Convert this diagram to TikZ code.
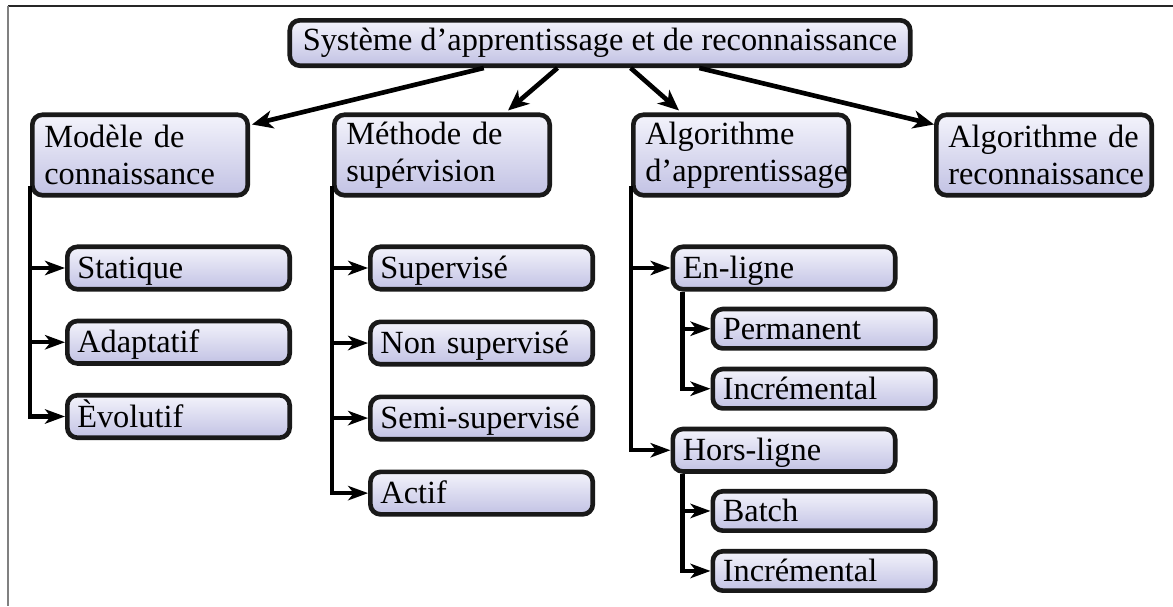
\documentclass[tikz,border=0pt]{standalone}
\usepackage{fontspec}
\setmainfont{Liberation Serif}
\usetikzlibrary{arrows.meta, calc, positioning}
\definecolor{boxtop}{RGB}{243,243,251}
\definecolor{boxbottom}{RGB}{194,194,228}

\begin{document}
\begin{tikzpicture}
% Styles
\tikzset{
  base/.style={rectangle, rounded corners=0.25cm, draw=black!90, line width=3.3pt, top color=boxtop, bottom color=boxbottom, align=left, inner xsep=0.25cm, inner ysep=0pt, font=\fontsize{23}{26}\selectfont},
  root/.style={base, align=center, minimum width=15.51cm, minimum height=1.134cm, text height=17pt, text depth=6pt},
  topic/.style={base, inner xsep=0.3cm, text width=4.784cm, minimum height=2.01cm},
  leaf/.style={base, text width=5.059cm, minimum height=1.06cm, text height=19pt, text depth=4pt},
  subleaf/.style={leaf, minimum height=0.984cm},
  arrow/.style={-{Stealth[length=0.52cm, width=0.45cm, inset=0.15cm]}, line width=3.3pt},
  branch/.style={-{Stealth[length=0.5cm, width=0.36cm, inset=0.14cm]}, line width=3.1pt}
};
\useasboundingbox (0,0) rectangle (29.325,-15.15);

% Rahmen
\draw[line width=1.4pt, black!85] (0.2,-0.15) -- (29.325,-0.15);
\draw[line width=1.4pt, black!50] (0.2,-0.15) -- (0.2,-15.15);

%==========================
% Obere Ebene
%==========================
\node[root] (system) at (15,-1.075) {Système d’apprentissage et de reconnaissance};

\node[topic] (model)  at (3.5,-3.875)  {Modèle de\\connaissance};
\node[topic] (method) at (11.05,-3.875) {Méthode de\\supérvision};
\node[topic] (learn)  at (18.525,-3.875) {Algorithme\\d’apprentissage};
\node[topic] (recog)  at (26.1,-3.875) {Algorithme de\\reconnaissance};

%==========================
% Unterpunkte
%==========================
\node[leaf] (static) at (4.4625,-6.7) {Statique};
\node[leaf, below=0.68cm of static] (adaptive) {Adaptatif};
\node[leaf, below=0.68cm of adaptive] (evolving) {Èvolutif};

\node[leaf] (supervised) at (12.04,-6.7) {Supervisé};
\node[leaf, below=0.7cm of supervised] (unsupervised) {Non supervisé};
\node[leaf, below=0.7cm of unsupervised] (semi) {Semi-supervisé};
\node[leaf, below=0.7cm of semi] (active) {Actif};

\node[leaf] (online) at (19.6,-6.7) {En-ligne};
\node[subleaf, below=0.38cm of online, xshift=1cm] (permanent) {Permanent};
\node[subleaf, below=0.4cm of permanent] (incronline) {Incrémental};
\node[leaf, below=0.4cm of incronline, xshift=-1cm] (offline) {Hors-ligne};
\node[subleaf, below=0.38cm of offline, xshift=1cm] (batch) {Batch};
\node[subleaf, below=0.4cm of batch] (incroffline) {Incrémental};

% === Pfeile oben ===
\draw[arrow] ($(system.south west)!0.314!(system.south east)$) -- ($(model.north east)+(0.05,-0.3)$);
\draw[arrow] ($(system.south west)!0.432!(system.south east)$) -- ($(method.north east)+(-1.1,0.05)$);
\draw[arrow] ($(system.south west)!0.549!(system.south east)$) -- ($(learn.north west)+(1.2,0.05)$);
\draw[arrow] ($(system.south west)!0.659!(system.south east)$) -- ($(recog.north west)+(0,-0.3)$);

% === Verzweigungen ===
\draw[branch] ($(model.south west)+(0,0.3)$) |- (static.west);
\draw[branch] ($(model.south west)+(0,0.3)$) |- (adaptive.west);
\draw[branch] ($(model.south west)+(0,0.3)$) |- (evolving.west);

\draw[branch] ($(method.south west)+(0,0.3)$) |- (supervised.west);
\draw[branch] ($(method.south west)+(0,0.3)$) |- (unsupervised.west);
\draw[branch] ($(method.south west)+(0,0.3)$) |- (semi.west);
\draw[branch] ($(method.south west)+(0,0.3)$) |- (active.west);

\draw[branch] ($(learn.south west)+(0,0.3)$) |- (online.west);
\draw[branch] ($(learn.south west)+(0,0.3)$) |- (offline.west);

\draw[branch] ($(online.south west)+(0.3,0)$) |- (permanent.west);
\draw[branch] ($(online.south west)+(0.3,0)$) |- (incronline.west);
\draw[branch] ($(offline.south west)+(0.3,0)$) |- (batch.west);
\draw[branch] ($(offline.south west)+(0.3,0)$) |- (incroffline.west);
\end{tikzpicture}
\end{document}
